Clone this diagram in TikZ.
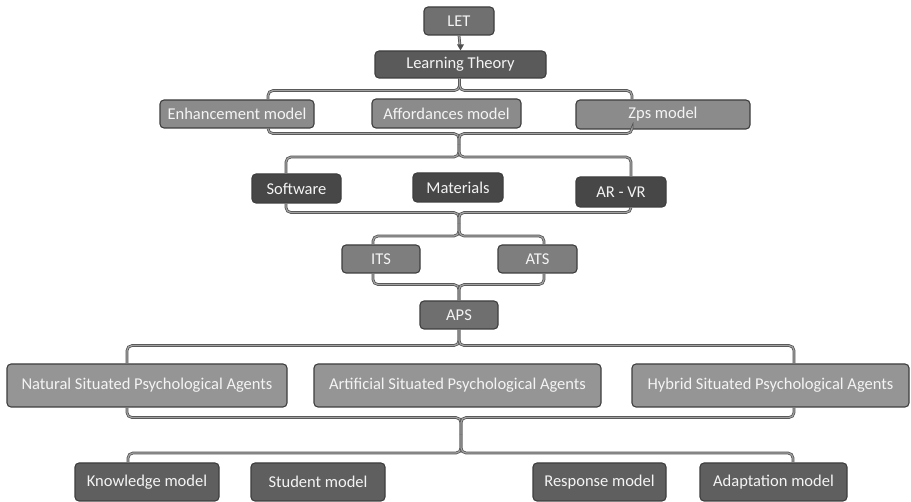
\documentclass[tikz,border=0pt]{standalone}
\usepackage{fontspec}
\setmainfont{Carlito}
\usetikzlibrary{calc}

\definecolor{edgegray}{HTML}{3E3E3E}
\definecolor{linegray}{HTML}{505050}
\definecolor{linecore}{HTML}{A2A2A2}
\definecolor{txt}{HTML}{F4F4F4}
\definecolor{fLET}{HTML}{707070}
\definecolor{fLT}{HTML}{5A5A5A}
\definecolor{fModel}{HTML}{8B8B8B}
\definecolor{fRes}{HTML}{474747}
\definecolor{fTS}{HTML}{7E7E7E}
\definecolor{fAPS}{HTML}{6F6F6F}
\definecolor{fAgent}{HTML}{959595}
\definecolor{fComp}{HTML}{5F5F5F}

\tikzset{
  box/.style={draw=edgegray, line width=1.1pt, rounded corners=4pt,
    text=txt, inner sep=0pt, font=\fontsize{16.5}{18}\selectfont},
  conn/.style={draw=linegray, line width=0.75pt, double=linecore,
    double distance=1.2pt, rounded corners=5pt},
}

% place a box by its left, top, right, bottom edges
\newcommand{\boxat}[7]{%
  \node[box, fill=#2, minimum width={#5-#3}, minimum height={#6-#4}]
    (#1) at ({(#3+#5)/2},{(#4+#6)/2}) {#7};}

\begin{document}
\begin{tikzpicture}[x=1pt, y=-1pt]
\useasboundingbox (0,0) rectangle (911,502);

% top of the tree
\boxat{let}{fLET}{424}{7}{494}{35}{LET}
\boxat{lt}{fLT}{375}{51}{546}{78}{Learning Theory}

% models
\boxat{enh}{fModel}{160}{100}{314}{128}{Enhancement model}
\boxat{aff}{fModel}{372}{99}{521}{128}{Affordances model}
\boxat{zps}{fModel}{576}{100}{750}{129}{Zps model}

% resources
\boxat{soft}{fRes}{252}{174}{341}{203}{Software}
\boxat{mat}{fRes}{413}{173}{503}{202}{Materials}
\boxat{arvr}{fRes}{576}{177}{666}{207}{AR - VR}

% tutoring systems
\boxat{its}{fTS}{342}{245}{420}{273}{ITS}
\boxat{ats}{fTS}{498}{245}{577}{273}{ATS}

\boxat{aps}{fAPS}{420}{301}{498}{329}{APS}

% agents
\boxat{nat}{fAgent}{7}{364}{287}{407}{Natural Situated Psychological Agents}
\boxat{art}{fAgent}{314}{364}{601}{407}{Artificial Situated Psychological Agents}
\boxat{hyb}{fAgent}{632}{364}{909}{407}{Hybrid Situated Psychological Agents}

% components
\boxat{know}{fComp}{75}{463}{219}{501}{Knowledge model}
\boxat{stud}{fComp}{251}{463}{385}{501}{Student model}
\boxat{resp}{fComp}{533}{463}{666}{501}{Response model}
\boxat{adap}{fComp}{700}{463}{847}{501}{Adaptation model}

% brace tips
\coordinate (tipB) at (459,145);
\coordinate (tipC) at (459,224);
\coordinate (tipF) at (461,435);

% LET -> Learning Theory
\draw[conn, shorten >=5pt] (let.south) -- (lt.north);
\fill[linegray] (lt.north) -- ++(-3.5,-6) -- ++(7,0) -- cycle;

% Learning Theory -> models
\draw[conn] ([xshift=-1]lt.south) -- ++(0,12) -| ([xshift=31]enh.north);
\draw[conn] ([xshift=-1]lt.south) -- ++(0,12) -| ([xshift=-31]zps.north);

% models -> resources
\draw[conn] ([xshift=31]enh.south) -- ++(0,5) -| (tipB);
\draw[conn] ([xshift=-31]zps.south) -- ++(0,4) -| (tipB);
\draw[conn] (tipB) -- ++(0,12) -| ([xshift=-10.5]soft.north);
\draw[conn] (tipB) -- ++(0,12) -| ([xshift=10]arvr.north);

% resources -> tutoring systems
\draw[conn] ([xshift=-10.5]soft.south) -- ++(0,9) -| (tipC);
\draw[conn] ([xshift=10]arvr.south) -- ++(0,5) -| (tipC);
\draw[conn] (tipC) -- ++(0,12) -| ([xshift=-8]its.north);
\draw[conn] (tipC) -- ++(0,12) -| ([xshift=6.5]ats.north);

% tutoring systems -> APS
\draw[conn] ([xshift=-8]its.south) -- ++(0,11) -| (aps.north);
\draw[conn] ([xshift=6.5]ats.south) -- ++(0,11) -| (aps.north);

% APS -> agents
\draw[conn] (aps.south) -- ++(0,16) -| ([xshift=-20]nat.north);
\draw[conn] (aps.south) -- ++(0,16) -| ([xshift=23.5]hyb.north);

% agents -> components
\draw[conn] ([xshift=-20]nat.south) -- ++(0,10) -| (tipF);
\draw[conn] ([xshift=23.5]hyb.south) -- ++(0,10) -| (tipF);
\draw[conn] (tipF) -- ++(0,18) -| ([xshift=-19]know.north);
\draw[conn] (tipF) -- ++(0,18) -| ([xshift=19.5]adap.north);
\end{tikzpicture}
\end{document}
